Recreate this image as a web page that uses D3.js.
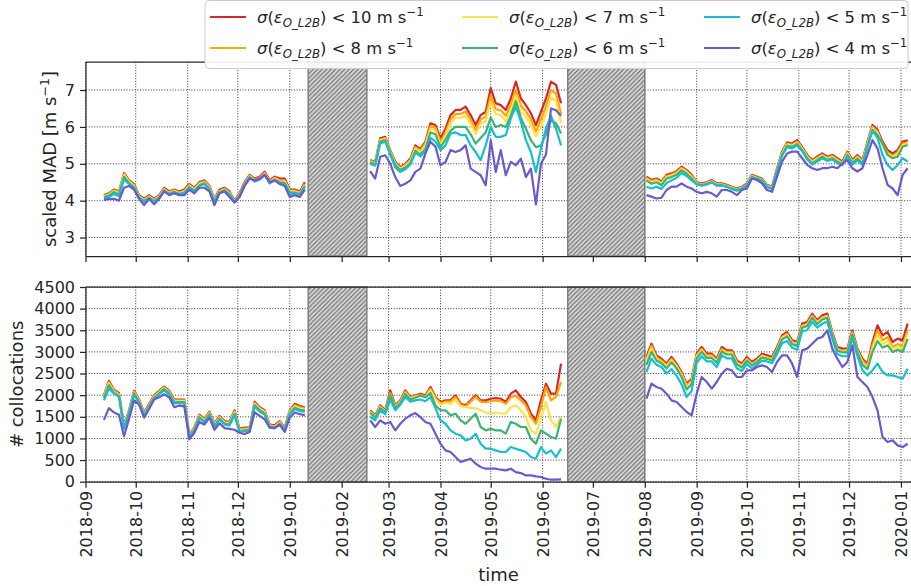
<!DOCTYPE html>
<html>
<head>
<meta charset="utf-8">
<script src="https://cdn.jsdelivr.net/npm/d3@7"></script>
<style>
  body { margin: 0; background: #fff; }
  svg { display: block; font-family: "DejaVu Sans", sans-serif; }
</style>
</head>
<body>
<svg id="chart" width="911" height="586"></svg>
<script>
// each series is split in 3 segments (data gaps), one value every 3 days from the segment start
const segStarts = ["2018-09-12", "2019-02-18", "2019-08-02"];
const stepDays = 3;
const gaps = [["2019-01-12", "2019-02-16"], ["2019-06-16", "2019-08-01"]];
const thresholds = ["10", "8", "7", "6", "5", "4"];
const colors = ["#d62728", "#ffa500", "#ffe14d", "#3cb371", "#17becf", "#6a5acd"];
const madTicks = [3, 4, 5, 6, 7];
const colTicks = [0, 500, 1000, 1500, 2000, 2500, 3000, 3500, 4000, 4500];

// scaled MAD [m/s]
const mad10 = [
  [4.15,4.2,4.3,4.25,4.75,4.55,4.45,4.15,4.05,4.15,4.05,4.15,4.35,4.25,4.3,4.25,4.3,4.45,4.35,4.5,4.55,4.4,4.05,4.3,4.35,4.25,4.0,4.2,4.5,4.7,4.6,4.65,4.78,4.55,4.65,4.6,4.6,4.3,4.3,4.25,4.5],
  [5.1,5.05,5.69,5.73,5.37,5.05,4.91,5.0,5.14,5.5,5.4,5.6,6.1,6.05,5.69,5.96,6.32,6.46,6.46,6.55,6.32,6.05,6.32,6.41,7.05,6.64,6.59,6.46,6.77,7.23,6.77,6.59,6.37,6.05,6.41,6.77,7.23,7.14,6.64],
  [4.65,4.56,4.6,4.52,4.7,4.74,4.8,4.92,4.83,4.7,4.5,4.47,4.5,4.56,4.47,4.47,4.43,4.38,4.33,4.38,4.47,4.7,4.65,4.6,4.43,4.38,4.88,5.33,5.58,5.55,5.64,5.46,5.24,5.1,5.19,5.28,5.19,5.24,5.15,5.06,5.33,5.1,5.24,5.1,5.6,6.05,5.92,5.6,5.37,5.28,5.37,5.6,5.64]
];
const mad8 = [
  [4.13,4.18,4.28,4.22,4.72,4.53,4.42,4.12,4.03,4.12,4.03,4.13,4.32,4.22,4.28,4.22,4.27,4.42,4.32,4.47,4.52,4.37,4.03,4.27,4.32,4.22,3.98,4.17,4.47,4.68,4.57,4.62,4.75,4.52,4.62,4.55,4.55,4.27,4.27,4.22,4.45],
  [5.08,5.03,5.66,5.7,5.34,5.02,4.88,4.97,5.1,5.45,5.36,5.55,6.02,5.98,5.6,5.85,6.2,6.35,6.35,6.42,6.2,5.92,6.2,6.28,6.85,6.48,6.45,6.3,6.6,7.0,6.58,6.42,6.2,5.88,6.2,6.55,7.0,6.9,6.35],
  [4.62,4.53,4.57,4.49,4.67,4.71,4.77,4.89,4.8,4.67,4.48,4.45,4.48,4.54,4.45,4.45,4.41,4.36,4.31,4.36,4.45,4.68,4.63,4.58,4.41,4.36,4.85,5.3,5.55,5.52,5.6,5.43,5.21,5.07,5.16,5.25,5.16,5.21,5.12,5.03,5.3,5.07,5.2,5.07,5.56,6.0,5.87,5.54,5.31,5.22,5.31,5.55,5.58]
];
const mad7 = [
  [4.12,4.16,4.26,4.2,4.7,4.5,4.4,4.1,4.01,4.1,4.01,4.11,4.3,4.2,4.26,4.2,4.25,4.4,4.3,4.45,4.5,4.35,4.01,4.25,4.3,4.2,3.97,4.15,4.45,4.66,4.55,4.6,4.72,4.5,4.6,4.52,4.52,4.25,4.25,4.2,4.42],
  [5.06,5.0,5.63,5.67,5.31,5.0,4.86,4.94,5.07,5.4,5.32,5.5,5.95,5.9,5.5,5.75,6.1,6.25,6.25,6.3,6.08,5.8,6.08,6.15,6.68,6.35,6.32,6.15,6.45,6.85,6.42,6.28,6.05,5.75,6.0,6.35,6.8,6.7,6.1],
  [4.59,4.5,4.54,4.46,4.64,4.68,4.74,4.86,4.77,4.64,4.46,4.43,4.46,4.52,4.43,4.43,4.39,4.34,4.29,4.34,4.43,4.66,4.61,4.56,4.39,4.34,4.82,5.27,5.52,5.49,5.57,5.4,5.18,5.04,5.13,5.22,5.13,5.18,5.09,5.0,5.27,5.04,5.17,5.04,5.53,5.96,5.83,5.5,5.27,5.18,5.27,5.5,5.54]
];
const mad6 = [
  [4.1,4.14,4.23,4.17,4.65,4.47,4.37,4.08,3.99,4.08,3.99,4.09,4.28,4.18,4.24,4.18,4.22,4.37,4.27,4.42,4.47,4.32,3.99,4.23,4.28,4.18,3.96,4.13,4.43,4.64,4.53,4.58,4.7,4.48,4.57,4.5,4.48,4.22,4.22,4.18,4.4],
  [5.04,4.98,5.6,5.64,5.28,4.97,4.83,4.9,5.02,5.35,5.25,5.4,5.85,5.8,5.45,5.65,5.9,6.0,6.0,6.0,5.8,5.55,5.7,5.85,6.25,6.0,6.05,6.0,6.3,6.7,6.25,5.95,5.64,5.45,5.5,5.8,6.18,6.1,5.82],
  [4.55,4.46,4.5,4.42,4.6,4.64,4.7,4.82,4.73,4.6,4.44,4.41,4.44,4.5,4.41,4.41,4.37,4.32,4.27,4.32,4.41,4.64,4.59,4.54,4.37,4.32,4.79,5.24,5.49,5.46,5.54,5.37,5.15,5.01,5.1,5.19,5.1,5.15,5.06,4.98,5.24,5.02,5.14,5.01,5.5,5.92,5.78,5.55,5.24,5.15,5.19,5.46,5.51]
];
const mad5 = [
  [4.07,4.1,4.18,4.12,4.58,4.45,4.35,4.06,3.97,4.06,3.97,4.07,4.27,4.17,4.22,4.16,4.2,4.35,4.25,4.4,4.45,4.3,3.97,4.21,4.27,4.16,3.95,4.12,4.42,4.63,4.52,4.57,4.69,4.47,4.55,4.48,4.45,4.18,4.2,4.16,4.37],
  [5.0,4.95,5.55,5.6,5.25,4.9,4.78,4.85,4.98,5.3,5.2,5.35,5.7,5.6,5.37,5.5,5.82,5.85,5.78,5.78,5.5,5.32,5.1,5.5,6.0,5.73,5.73,5.78,6.23,6.55,6.14,5.64,5.32,4.78,5.41,5.96,6.3,5.95,5.5],
  [4.38,4.33,4.38,4.32,4.48,4.55,4.62,4.75,4.67,4.55,4.45,4.42,4.45,4.5,4.42,4.42,4.38,4.33,4.29,4.33,4.42,4.63,4.6,4.55,4.38,4.33,4.8,5.22,5.45,5.42,5.5,5.34,5.12,4.98,5.06,5.15,5.08,5.12,5.02,4.96,5.2,4.98,5.1,4.97,5.45,5.9,5.7,5.24,4.97,4.83,4.97,5.15,5.06]
];
const mad4 = [
  [4.02,4.05,4.05,4.0,4.35,4.4,4.3,4.05,3.88,4.05,3.9,4.05,4.25,4.15,4.2,4.15,4.15,4.3,4.2,4.35,4.35,4.25,3.88,4.2,4.25,4.1,3.95,4.1,4.4,4.6,4.55,4.6,4.7,4.5,4.55,4.45,4.4,4.1,4.15,4.1,4.3],
  [4.8,4.6,5.19,5.23,5.0,4.64,4.4,4.46,4.55,4.78,4.87,5.28,5.6,5.46,4.96,5.05,5.37,5.32,5.37,5.5,4.87,4.78,4.69,4.42,5.64,4.78,5.37,4.69,5.05,4.96,5.14,4.64,4.87,3.9,5.0,5.25,6.5,6.45,6.3],
  [4.15,4.11,4.06,4.08,4.29,4.38,4.38,4.47,4.38,4.33,4.24,4.2,4.24,4.2,4.11,4.29,4.29,4.24,4.15,4.29,4.33,4.6,4.56,4.47,4.29,4.24,4.65,5.06,5.28,5.33,5.33,5.15,4.97,4.88,4.83,4.88,4.88,4.92,4.88,5.01,5.1,4.88,4.79,4.88,5.24,5.64,5.42,4.88,4.43,4.33,4.15,4.7,4.88]
];

// number of collocations
const col10 = [
  [2000,2330,2120,2050,1300,1650,2100,1900,1600,1800,2000,2100,2200,2100,1900,1900,1900,1080,1250,1550,1450,1620,1350,1520,1400,1380,1650,1220,1250,1250,1850,1720,1650,1320,1300,1400,1250,1650,1800,1750,1720],
  [1650,1533,1765,1650,2111,1765,1880,2111,1957,1996,2034,1996,2188,1957,1842,1880,1880,1996,1803,1765,1880,1996,1880,1880,1918,1934,1918,1842,2034,2111,1957,1842,1572,1418,1880,2265,2034,2034,2728],
  [2882,3190,2920,2843,2728,2882,2728,2535,2266,2381,2959,3113,2959,2959,2843,3113,3036,3036,2805,2728,2882,2766,2843,2959,2920,2882,3113,3383,3460,3267,3229,3653,3691,3884,3730,3845,3884,3460,3113,3075,3075,3498,3075,2843,2728,3229,3614,3383,3460,3229,3306,3267,3653]
];
const col8 = [
  [1980,2300,2100,2030,1280,1630,2080,1880,1580,1780,1980,2080,2180,2080,1880,1880,1880,1060,1230,1530,1430,1600,1330,1500,1380,1360,1620,1200,1230,1230,1820,1700,1630,1300,1280,1380,1230,1630,1770,1720,1700],
  [1630,1510,1740,1630,2050,1740,1860,2080,1940,1980,2010,1970,2150,1930,1810,1850,1850,1960,1780,1740,1850,1960,1850,1840,1860,1880,1870,1800,1950,1990,1880,1760,1495,1340,1726,2188,1880,1957,2300],
  [2840,3140,2880,2800,2690,2840,2690,2500,2230,2340,2920,3070,2920,2920,2800,3070,3000,3000,2770,2690,2840,2730,2800,2920,2880,2840,3070,3340,3420,3230,3190,3610,3650,3840,3690,3800,3840,3420,3070,3030,3040,3450,3030,2800,2680,3150,3500,3270,3340,3110,3180,3140,3500]
];
const col7 = [
  [1960,2270,2080,2000,1260,1610,2060,1860,1560,1760,1960,2060,2160,2060,1860,1860,1860,1050,1210,1510,1410,1580,1310,1480,1360,1340,1600,1180,1210,1210,1800,1680,1610,1280,1260,1360,1210,1610,1740,1690,1680],
  [1610,1490,1720,1610,2000,1720,1840,2050,1920,1960,1990,1950,2110,1900,1780,1820,1800,1900,1740,1726,1700,1700,1650,1600,1572,1600,1580,1572,1726,1765,1650,1495,1187,1110,1456,1842,1418,1264,1500],
  [2790,3090,2840,2770,2660,2810,2660,2460,2190,2300,2890,3040,2890,2890,2780,3040,2970,2970,2740,2670,2820,2710,2780,2900,2860,2820,3050,3320,3390,3210,3170,3580,3620,3810,3670,3780,3810,3400,3050,3010,3010,3420,3010,2750,2640,3080,3400,3180,3250,3060,3110,3070,3420]
];
const col6 = [
  [1930,2230,2050,1980,1240,1590,2040,1840,1540,1740,1940,2040,2140,2040,1840,1840,1840,1040,1190,1490,1390,1560,1290,1460,1340,1320,1570,1160,1190,1190,1770,1650,1580,1260,1240,1340,1200,1580,1710,1660,1650],
  [1590,1480,1700,1600,2000,1700,1820,2030,1900,1940,1990,1950,2050,1760,1650,1650,1533,1572,1418,1340,1456,1572,1264,1187,1225,1187,1187,1110,1380,1340,1264,1264,994,878,1187,1110,1033,994,1456],
  [2700,3000,2800,2740,2620,2760,2620,2420,2130,2250,2850,3000,2860,2860,2750,3010,2940,2940,2710,2640,2800,2690,2760,2870,2840,2800,3030,3290,3360,3180,3140,3560,3600,3790,3640,3750,3790,3380,3030,2990,2990,3400,2990,2700,2600,3000,3250,3100,3150,3000,3050,2998,3300]
];
const col5 = [
  [1880,2150,2040,1960,1220,1570,2010,1820,1520,1720,1920,2020,2110,2010,1810,1820,1810,1030,1170,1470,1370,1540,1270,1440,1320,1300,1540,1150,1170,1170,1740,1620,1550,1250,1230,1320,1190,1560,1680,1630,1620],
  [1495,1420,1650,1560,1900,1650,1780,1960,1850,1880,1900,1860,1957,1700,1418,1340,1187,1110,1071,955,994,1110,878,763,763,724,686,686,801,763,724,686,570,532,801,647,724,570,763],
  [2535,2843,2700,2650,2500,2600,2450,2250,1957,2100,2750,2900,2780,2780,2650,2920,2850,2850,2620,2560,2720,2620,2700,2800,2780,2740,2950,3200,3250,3100,3050,3480,3500,3700,3560,3650,3700,3300,2950,2900,2900,3320,2900,2574,2458,2574,2728,2535,2458,2458,2420,2381,2612]
];
const col4 = [
  [1430,1700,1600,1550,1050,1450,1880,1780,1480,1680,1900,1950,2020,1950,1720,1760,1740,980,1130,1380,1320,1480,1200,1350,1240,1220,1200,1130,1100,1150,1600,1520,1440,1250,1250,1320,1150,1480,1600,1560,1540],
  [1418,1264,1418,1340,1380,1187,1340,1456,1533,1587,1495,1380,1340,1110,878,724,686,570,455,493,532,416,339,300,300,300,277,262,300,223,200,146,146,123,108,69,46,46,54],
  [1919,2266,2188,2150,2034,1880,1842,1726,1611,1533,2034,2420,2304,2150,2304,2497,2612,2574,2420,2420,2574,2574,2651,2689,2651,2535,2766,2920,2920,2728,2420,3036,3075,3190,3306,3344,3498,3075,2843,2651,2766,3152,2420,2304,2188,1957,1649,1033,917,955,840,801,878]
];

const madSeries = [mad10, mad8, mad7, mad6, mad5, mad4];
const colSeries = [col10, col8, col7, col6, col5, col4];

const svg = d3.select("#chart");
const parse = d3.utcParse("%Y-%m-%d");
const left = 86, right = 911;
const x = d3.scaleUtc()
  .domain([parse("2018-09-01"), parse("2020-01-07")])
  .range([85.5, right]);
const months = d3.utcMonth.range(parse("2018-09-01"), parse("2020-01-05"));

const panels = [
  {top: 62, bottom: 256, y: d3.scaleLinear().domain([2.5, 7.76]).range([256, 62]),
   ticks: madTicks, series: madSeries, labelX: 50},
  {top: 287, bottom: 481.7, y: d3.scaleLinear().domain([0, 4500]).range([481.7, 287]),
   ticks: colTicks, series: colSeries, labelX: 17}
];

// hatch pattern for the gap boxes
const defs = svg.append("defs");
const pat = defs.append("pattern")
  .attr("id", "hatch")
  .attr("patternUnits", "userSpaceOnUse")
  .attr("width", 4.5).attr("height", 4.5);
pat.append("rect").attr("width", 4.5).attr("height", 4.5).attr("fill", "#d6d6d6");
pat.append("path")
  .attr("d", "M0,4.5 L4.5,0 M-1,1 L1,-1 M3.5,5.5 L5.5,3.5")
  .attr("stroke", "#5e5e5e").attr("stroke-width", 1);

function toPoints(segs) {
  return segs.map((seg, k) => {
    const start = parse(segStarts[k]);
    return seg.map((v, i) => ({t: d3.utcDay.offset(start, i * stepDays), v: v}));
  });
}

panels.forEach(p => {
  const g = svg.append("g");
  const y = p.y;

  // grid
  g.append("g").selectAll("line").data(months).join("line")
    .attr("x1", d => x(d)).attr("x2", d => x(d))
    .attr("y1", p.top).attr("y2", p.bottom)
    .attr("stroke", "#222").attr("stroke-width", 0.9)
    .attr("stroke-dasharray", "1,1.7");
  g.append("g").selectAll("line").data(p.ticks).join("line")
    .attr("x1", left).attr("x2", right)
    .attr("y1", d => y(d)).attr("y2", d => y(d))
    .attr("stroke", "#222").attr("stroke-width", 0.9)
    .attr("stroke-dasharray", "1,1.7");

  // gap boxes
  g.append("g").selectAll("rect").data(gaps).join("rect")
    .attr("x", d => x(parse(d[0])))
    .attr("width", d => x(parse(d[1])) - x(parse(d[0])))
    .attr("y", p.top).attr("height", p.bottom - p.top)
    .attr("fill", "url(#hatch)")
    .attr("stroke", "#808080").attr("stroke-width", 1.5);

  // lines
  const line = d3.line().x(d => x(d.t)).y(d => y(d.v));
  p.series.forEach((s, j) => {
    toPoints(s).forEach(pts => {
      g.append("path").datum(pts)
        .attr("d", line)
        .attr("fill", "none")
        .attr("stroke", colors[j])
        .attr("stroke-width", 2.2)
        .attr("stroke-linejoin", "round");
    });
  });

  // spines
  g.append("line").attr("x1", left).attr("x2", left).attr("y1", p.top).attr("y2", p.bottom)
    .attr("stroke", "#262626").attr("stroke-width", 1.25);
  g.append("line").attr("x1", left).attr("x2", right + 2).attr("y1", p.top).attr("y2", p.top)
    .attr("stroke", "#262626").attr("stroke-width", 1.25);

  // y axis
  const ya = g.append("g").attr("transform", `translate(${left},0)`)
    .call(d3.axisLeft(y).tickValues(p.ticks).tickSize(6).tickPadding(5).tickFormat(d3.format("d")));
  ya.select(".domain").remove();
  ya.selectAll("line").attr("stroke", "#262626").attr("stroke-width", 1.25);
  ya.selectAll("text").attr("fill", "#262626").style("font-size", "16px")
    .style("font-family", "DejaVu Sans");

  // x axis
  const xa = g.append("g").attr("transform", `translate(0,${p.bottom})`)
    .call(d3.axisBottom(x).tickValues(months).tickSize(6).tickFormat(d3.utcFormat("%Y-%m")));
  xa.select(".domain").attr("d", `M${left},0.5H${right + 2}`)
    .attr("stroke", "#262626").attr("stroke-width", 1.25);
  xa.selectAll("line").attr("stroke", "#262626").attr("stroke-width", 1.25);
  if (p === panels[1]) {
    xa.selectAll("text")
      .attr("x", -9).attr("y", 0).attr("dy", "0.35em")
      .attr("transform", "rotate(-90)")
      .style("text-anchor", "end")
      .attr("fill", "#262626").style("font-size", "16px")
      .style("font-family", "DejaVu Sans");
  } else {
    xa.selectAll("text").remove();
  }
});

// axis labels
const ylab1 = svg.append("text")
  .attr("transform", `translate(${panels[0].labelX},${(panels[0].top + panels[0].bottom) / 2}) rotate(-90)`)
  .attr("text-anchor", "middle").attr("dy", "0.35em")
  .attr("fill", "#262626").style("font-size", "18px");
ylab1.append("tspan").text("scaled MAD [m s");
ylab1.append("tspan").attr("dy", -7).style("font-size", "12.6px").text("\u22121");
ylab1.append("tspan").attr("dy", 7).text("]");

svg.append("text")
  .attr("transform", `translate(${panels[1].labelX},${(panels[1].top + panels[1].bottom) / 2}) rotate(-90)`)
  .attr("text-anchor", "middle").attr("dy", "0.35em")
  .attr("fill", "#262626").style("font-size", "18px")
  .text("# collocations");

svg.append("text")
  .attr("x", (left + right) / 2).attr("y", 581)
  .attr("text-anchor", "middle")
  .attr("fill", "#262626").style("font-size", "18px")
  .text("time");

// legend
const leg = svg.append("g");
leg.append("rect")
  .attr("x", 205).attr("y", 0.5).attr("width", 703).attr("height", 68)
  .attr("rx", 4)
  .attr("fill", "#fff").attr("fill-opacity", 0.9)
  .attr("stroke", "#cccccc").attr("stroke-width", 1);
const colX = [210, 462, 704];
const rowY = [17, 48];
thresholds.forEach((th, j) => {
  const cx = colX[Math.floor(j / 2)];
  const cy = rowY[j % 2];
  leg.append("line")
    .attr("x1", cx).attr("x2", cx + 36).attr("y1", cy).attr("y2", cy)
    .attr("stroke", colors[j]).attr("stroke-width", 2);
  const t = leg.append("text")
    .attr("x", cx + 47).attr("y", cy).attr("dy", "0.35em")
    .attr("fill", "#262626").style("font-size", "16.4px");
  t.append("tspan").style("font-style", "italic").text("\u03c3");
  t.append("tspan").text("(");
  t.append("tspan").style("font-style", "italic").text("\u03b5");
  t.append("tspan").attr("dy", 4).style("font-size", "11.8px").style("font-style", "italic").text("O_L2B");
  t.append("tspan").attr("dy", -4).text(`) < ${th} m s`);
  t.append("tspan").attr("dy", -7).style("font-size", "11.8px").text("\u22121");
});
</script>
</body>
</html>
